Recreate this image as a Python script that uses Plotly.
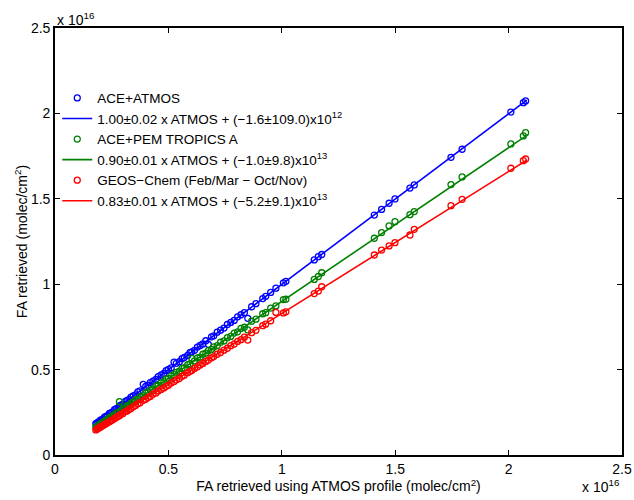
import plotly.graph_objects as go

# values in units of 1e16 molec/cm^2
atmos_x = [0.180, 0.185, 0.19, 0.196, 0.20, 0.205, 0.212, 0.218, 0.225, 0.232, 0.24, 0.246, 0.255, 0.262,
           0.27, 0.278, 0.284, 0.29, 0.30, 0.31, 0.318, 0.326, 0.335, 0.345, 0.355, 0.365, 0.375, 0.389,
           0.40, 0.41, 0.42, 0.432, 0.445, 0.455, 0.468, 0.48, 0.49, 0.50, 0.512, 0.525, 0.535, 0.548,
           0.56, 0.57, 0.585, 0.595, 0.603, 0.615, 0.628, 0.64, 0.652, 0.665, 0.676, 0.69, 0.70, 0.715,
           0.73, 0.745, 0.76, 0.775, 0.79, 0.805, 0.82, 0.835, 0.85, 0.867, 0.886, 0.916, 0.929, 0.951,
           0.974, 1.007, 1.018, 1.143, 1.161, 1.176, 1.408, 1.44, 1.473, 1.499, 1.565, 1.584, 1.746,
           1.795, 2.01, 2.065, 2.075]

ace_atmos = [0.183, 0.186, 0.192, 0.195, 0.204, 0.206, 0.210, 0.221, 0.226, 0.230, 0.243, 0.247, 0.253, 0.266,
             0.271, 0.276, 0.287, 0.292, 0.298, 0.314, 0.319, 0.324, 0.339, 0.346, 0.352, 0.369, 0.376, 0.414,
             0.402, 0.408, 0.424, 0.433, 0.443, 0.459, 0.469, 0.478, 0.494, 0.501, 0.510, 0.544, 0.537, 0.546,
             0.564, 0.571, 0.583, 0.599, 0.604, 0.613, 0.632, 0.641, 0.650, 0.669, 0.648, 0.692, 0.698, 0.719,
             0.731, 0.743, 0.764, 0.776, 0.788, 0.809, 0.821, 0.833, 0.800, 0.868, 0.886, 0.916, 0.929, 0.952,
             0.977, 1.008, 1.017, 1.142, 1.161, 1.174, 1.405, 1.438, 1.474, 1.499, 1.563, 1.581, 1.743,
             1.790, 2.008, 2.063, 2.073]

ace_pem = [0.163, 0.165, 0.172, 0.175, 0.182, 0.183, 0.192, 0.195, 0.204, 0.207, 0.218, 0.220, 0.231, 0.234,
           0.245, 0.248, 0.312, 0.260, 0.272, 0.277, 0.289, 0.292, 0.303, 0.309, 0.322, 0.326, 0.340, 0.348,
           0.363, 0.367, 0.380, 0.387, 0.403, 0.407, 0.424, 0.430, 0.444, 0.448, 0.463, 0.470, 0.484, 0.491,
           0.507, 0.511, 0.529, 0.533, 0.566, 0.551, 0.568, 0.573, 0.590, 0.596, 0.611, 0.618, 0.633, 0.640,
           0.660, 0.668, 0.687, 0.694, 0.714, 0.721, 0.741, 0.748, 0.732, 0.783, 0.795, 0.827, 0.833, 0.860,
           0.873, 0.910, 0.912, 1.028, 1.045, 1.067, 1.269, 1.302, 1.341, 1.366, 1.407, 1.425, 1.583,
           1.628, 1.821, 1.868, 1.887]

geos_chem = [0.147, 0.152, 0.155, 0.161, 0.163, 0.168, 0.172, 0.178, 0.183, 0.190, 0.194, 0.201, 0.206, 0.214,
             0.219, 0.227, 0.230, 0.238, 0.243, 0.254, 0.258, 0.267, 0.272, 0.283, 0.290, 0.300, 0.306, 0.320,
             0.326, 0.337, 0.343, 0.356, 0.363, 0.375, 0.384, 0.393, 0.402, 0.408, 0.421, 0.430, 0.440, 0.448,
             0.461, 0.467, 0.482, 0.490, 0.494, 0.507, 0.516, 0.527, 0.536, 0.548, 0.556, 0.569, 0.576, 0.590,
             0.600, 0.614, 0.625, 0.640, 0.650, 0.665, 0.675, 0.690, 0.673, 0.716, 0.730, 0.757, 0.766, 0.786,
             0.835, 0.832, 0.838, 0.945, 0.960, 0.985, 1.171, 1.200, 1.224, 1.243, 1.288, 1.321, 1.460,
             1.497, 1.679, 1.723, 1.733]

fit_x = [0.18, 2.08]
fit_ace_atmos = [0.180, 2.078]
fit_ace_pem = [0.161, 1.871]
fit_geos = [0.147, 1.726]

names = ["ACE+ATMOS", "ACE+PEM TROPICS A", "GEOS\u2212Chem (Feb/Mar \u2212 Oct/Nov)"]
fit_names = ["1.00\u00b10.02 x ATMOS + (\u22121.6\u00b1109.0)x10<sup>12</sup>",
             "0.90\u00b10.01 x ATMOS + (\u22121.0\u00b19.8)x10<sup>13</sup>",
             "0.83\u00b10.01 x ATMOS + (\u22125.2\u00b19.1)x10<sup>13</sup>"]
colors = ["#0000ff", "#008000", "#ff0000"]
ticks = [0, 0.5, 1, 1.5, 2, 2.5]
tick_text = ["0", "0.5", "1", "1.5", "2", "2.5"]

FONT = "Liberation Sans, Arial, Helvetica, sans-serif"
FS = 14
LFS = 13.5

fig = go.Figure()
for name, fname, ys, fy, c in zip(names, fit_names, [ace_atmos, ace_pem, geos_chem],
                                  [fit_ace_atmos, fit_ace_pem, fit_geos], colors):
    fig.add_trace(go.Scatter(x=atmos_x, y=ys, mode="markers", name=name,
                             marker=dict(symbol="circle-open", size=6, color=c, line=dict(width=1.3, color=c))))
    fig.add_trace(go.Scatter(x=fit_x, y=fy, mode="lines", name=fname,
                             line=dict(color=c, width=1.6)))

axis_common = dict(range=[0, 2.5], tickvals=ticks, ticktext=tick_text, ticks="inside", ticklen=5,
                   tickwidth=1.3, tickcolor="black", showline=True, linecolor="black", linewidth=1.6,
                   mirror="ticks", showgrid=False, zeroline=False, automargin=False,
                   tickfont=dict(family=FONT, size=FS, color="black"))

fig.update_layout(
    width=634, height=500,
    margin=dict(l=55, r=12, t=28, b=45),
    paper_bgcolor="white", plot_bgcolor="white",
    font=dict(family=FONT, size=FS, color="black"),
    xaxis=dict(**axis_common,
               title=dict(text="FA retrieved using ATMOS profile (molec/cm<sup>2</sup>)",
                          font=dict(family=FONT, size=FS), standoff=0)),
    yaxis=dict(**axis_common,
               title=dict(text="FA retrieved (molec/cm<sup>2</sup>)",
                          font=dict(family=FONT, size=FS), standoff=0)),
    legend=dict(x=0.004, y=0.872, xanchor="left", yanchor="top", bgcolor="rgba(0,0,0,0)",
                font=dict(family=FONT, size=LFS), tracegroupgap=0, itemwidth=30),
    showlegend=True,
)
fig.add_annotation(text="x 10<sup>16</sup>", xref="paper", yref="paper", x=0.0, y=1.0,
                   xanchor="left", yanchor="bottom", showarrow=False, yshift=-2,
                   font=dict(family=FONT, size=FS))
fig.add_annotation(text="x 10<sup>16</sup>", xref="paper", yref="paper", x=1.0, y=0.0,
                   xanchor="right", yanchor="top", showarrow=False, yshift=-20,
                   font=dict(family=FONT, size=FS))

fig.write_html("out.html", config={"displayModeBar": False},
               post_script="document.body.style.margin='0';")
